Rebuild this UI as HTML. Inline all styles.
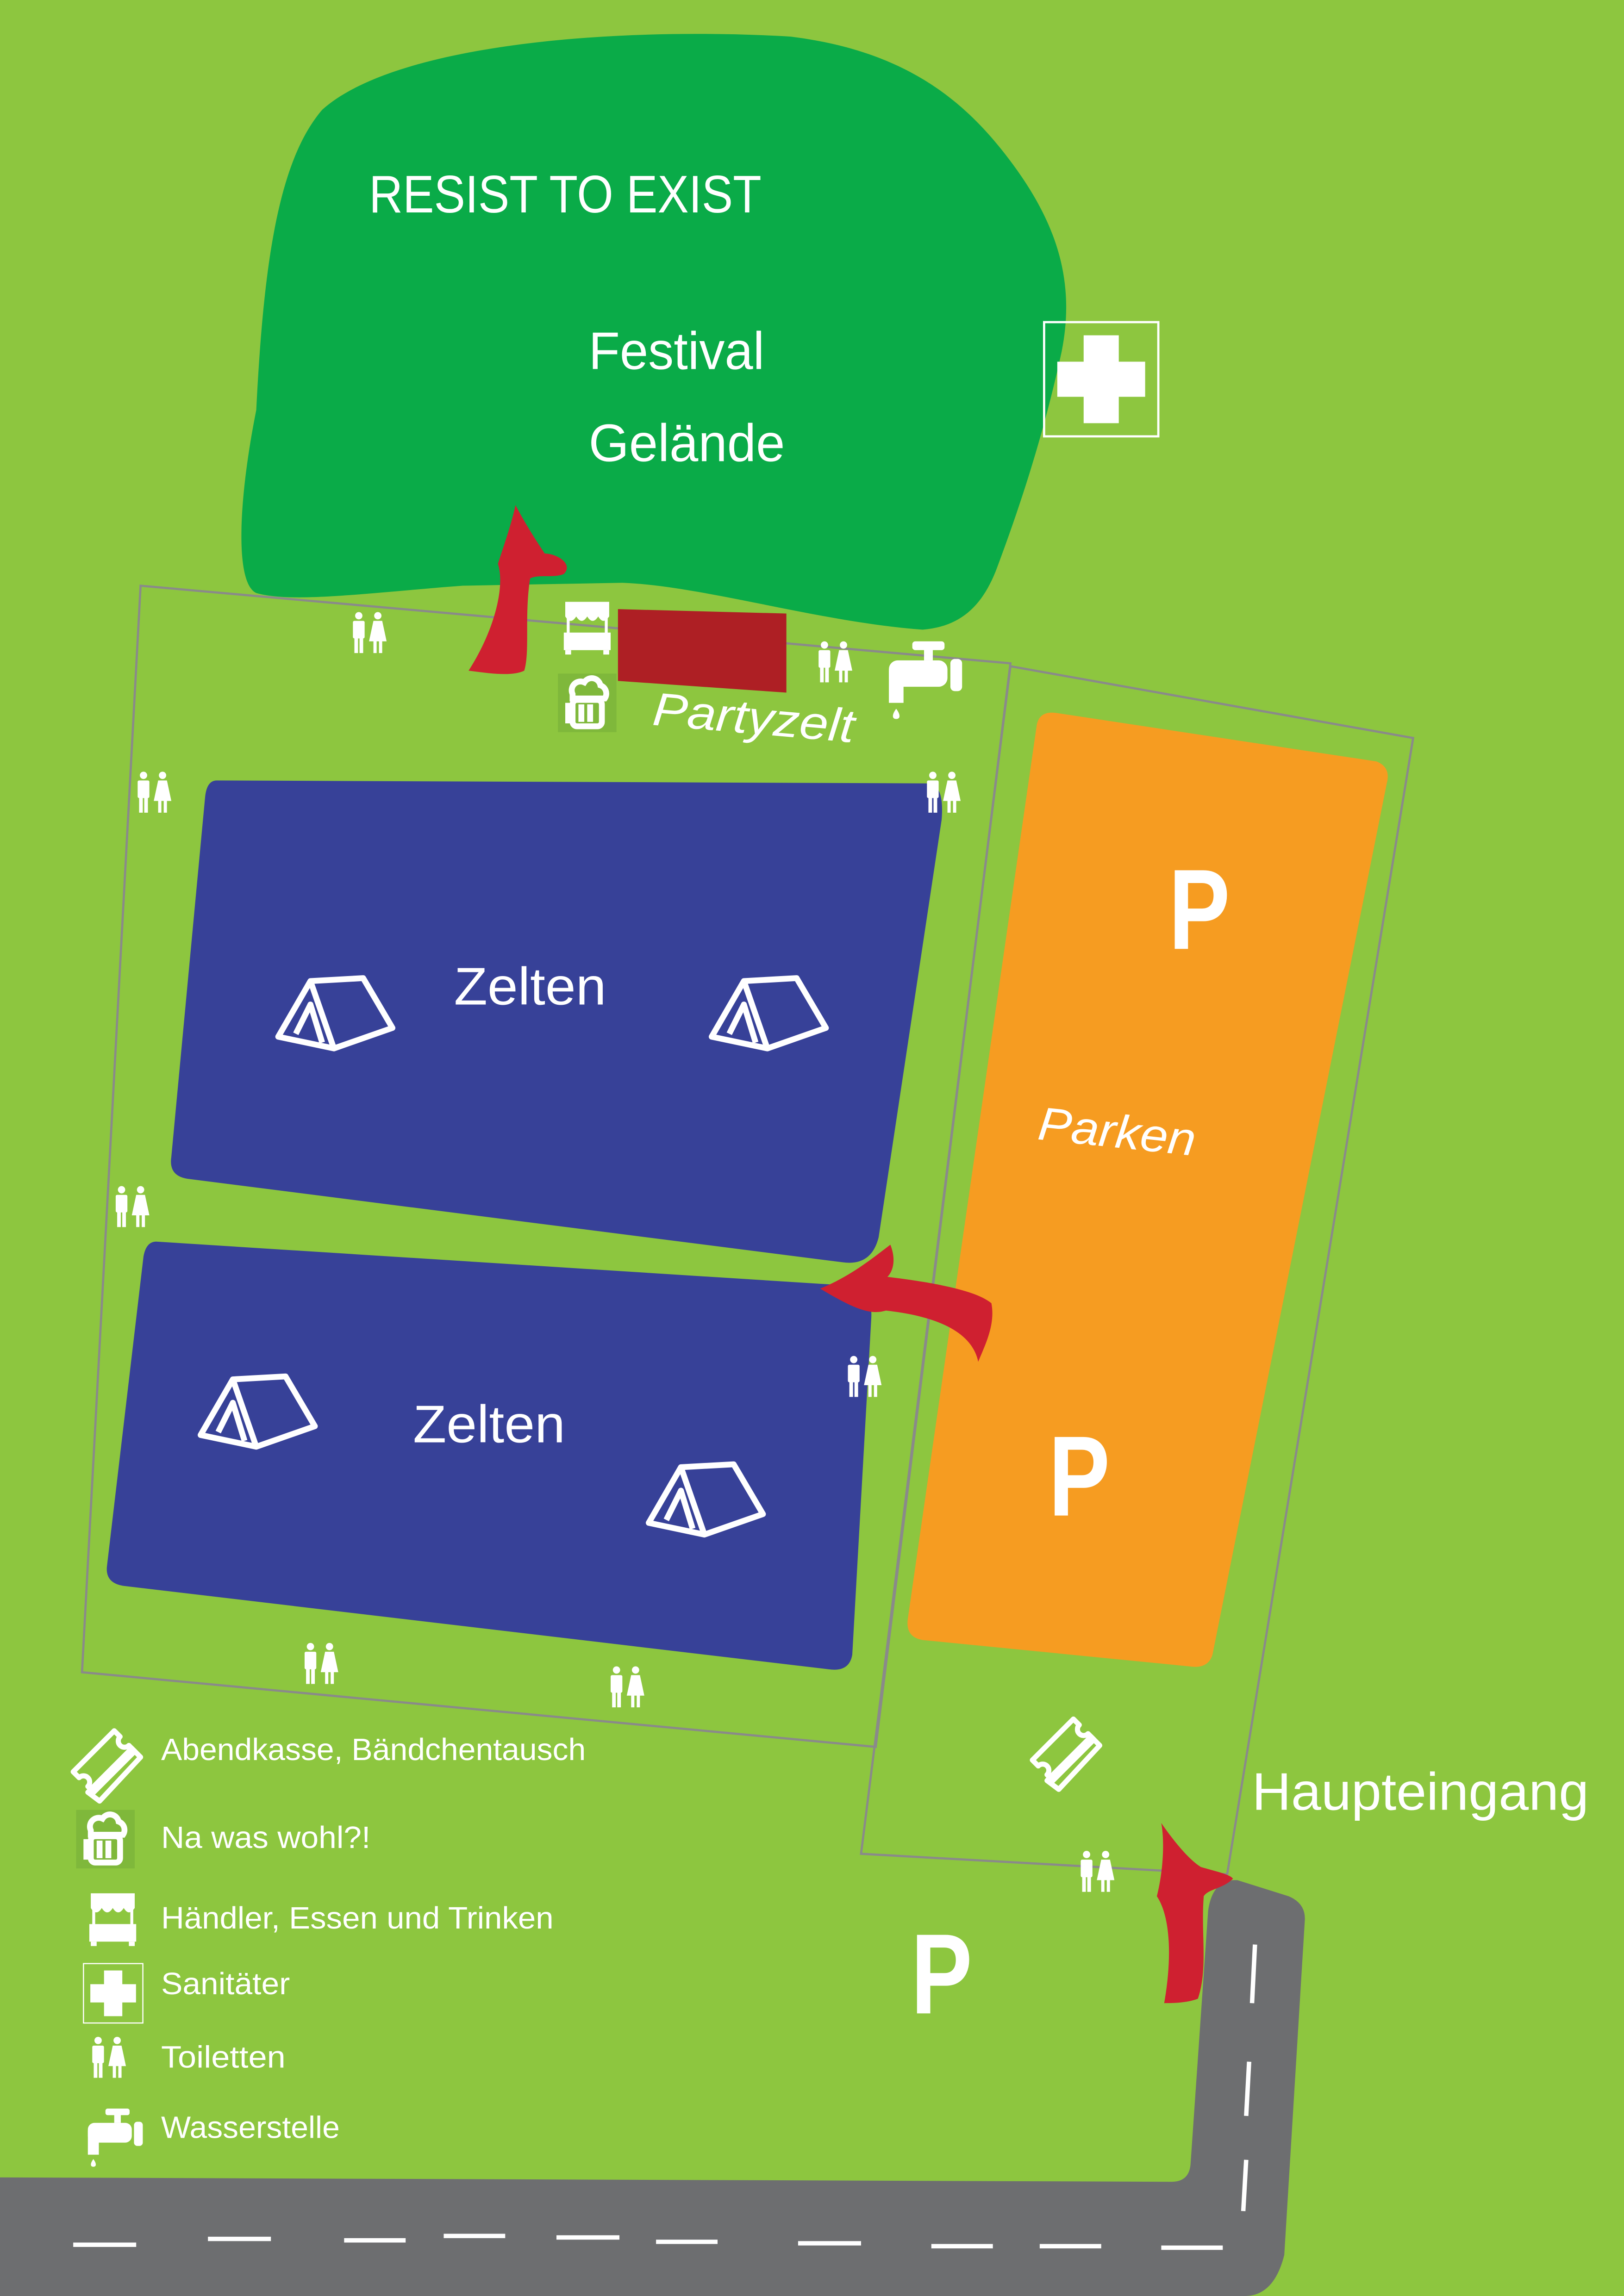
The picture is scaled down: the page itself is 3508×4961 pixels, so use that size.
<!DOCTYPE html>
<html><head><meta charset="utf-8"><style>
html,body{margin:0;padding:0;background:#8dc63f;}
svg{display:block}
text{font-family:"Liberation Sans",sans-serif;fill:#fff}
</style></head><body>
<svg width="3508" height="4961" viewBox="0 0 1109 1568" preserveAspectRatio="none" xmlns="http://www.w3.org/2000/svg">
<defs>
<g id="wc" fill="#fff">
  <circle cx="5" cy="2.5" r="2.5"/><rect x="1" y="6" width="8" height="12" rx="1"/><rect x="2" y="16" width="2.5" height="12"/><rect x="5.5" y="16" width="2.5" height="12"/>
  <circle cx="18" cy="2.5" r="2.5"/><path d="M15 6h6l3 14h-12z"/><rect x="15" y="18" width="2.2" height="10"/><rect x="18.8" y="18" width="2.2" height="10"/>
</g>
<g id="tent" fill="none" stroke="#fff" stroke-width="4" stroke-linejoin="round">
  <path d="M0 40 L22 2 L58 0 L78 34 L38 48 Z"/><path d="M12 38 L22 18 L30 44"/><path d="M22 2 L38 48"/>
</g>
<g id="stand" fill="#fff">
  <path d="M2 0h30v10c-3 4-5 4-7.5 0c-2.5 4-5 4-7.5 0c-2.5 4-5 4-7.5 0c-2.5 4-5 4-7.5 0z"/><rect x="3" y="10" width="2" height="12"/><rect x="29" y="10" width="2" height="12"/><rect x="1" y="21" width="32" height="12"/><rect x="2" y="33" width="4" height="3"/><rect x="28" y="33" width="4" height="3"/>
</g>
<g id="tap" fill="#fff">
  <rect x="16" y="0" width="22" height="6" rx="2"/><rect x="24" y="5" width="6" height="8"/><rect x="0" y="13" width="40" height="18" rx="6"/><rect x="42" y="12" width="8" height="22" rx="3"/><rect x="0" y="20" width="10" height="22"/><path d="M5 46 c-3 4-3 7 0 7 c3 0 3-3 0-7z"/>
</g>
<g id="beer">
  <rect x="-4" y="-4" width="40" height="40" fill="#7fb83b"/>
  <g fill="none" stroke="#fff" stroke-width="4"><path d="M6 10 a6 6 0 0 1 8-8 a6 6 0 0 1 11 2 a6 6 0 0 1 3 9 h-22z"/><rect x="6" y="14" width="20" height="18" rx="3"/><path d="M6 18 h-3 v10 h3"/><path d="M12 17v12M18 17v12"/></g>
</g>
<g id="ticket" fill="none" stroke="#fff" stroke-width="3.5" stroke-linejoin="round">
  <path d="M0 30 L28 2 l4 4 a4 4 0 0 0 6 6 l4 4 L14 44 l-4-4 a4 4 0 0 0 -6 -6z"/><path d="M10 44 l30-30 l6 6 L18 50z"/>
</g>
<g id="cross"><rect x="0" y="0" width="78" height="78" fill="none" stroke="#fff" stroke-width="1.5"/><path fill="#fff" d="M27 9h24v18h18v24h-18v18h-24v-18h-18v-24h18z"/></g>
</defs>

<rect width="1109" height="1568" fill="#8dc63f"/>

<!-- festival blob -->
<path d="M175 280 C180 180 190 110 220 75 C270 30 420 18 540 25 C620 35 660 70 690 110 C720 150 735 190 725 240 C712 300 695 350 680 390 C670 415 655 428 630 430 C560 425 480 400 425 398 L316 400 C250 405 200 412 175 405 C160 398 163 340 175 280Z" fill="#0aab48"/>

<!-- boundary lines -->
<polygon points="96,400 690,453 598,1193 56,1142" fill="none" stroke="#8a8a8a" stroke-width="1.5"/>
<polygon points="690,455 965,504 838,1280 588,1266" fill="none" stroke="#8a8a8a" stroke-width="1.5"/>

<!-- blue areas -->
<path d="M148 533 L635 535 Q645 537 643 560 L600 845 Q595 865 575 862 L128 805 Q115 803 117 790 L140 545 Q141 533 148 533Z" fill="#374198"/>
<path d="M108 848 L580 878 Q596 880 595 900 L582 1130 Q580 1142 566 1140 L84 1083 Q72 1081 73 1070 L98 858 Q100 847 108 848Z" fill="#374198"/>

<!-- orange -->
<path d="M722 487 L940 520 Q950 524 947 535 L828 1130 Q825 1140 812 1138 L630 1120 Q618 1118 620 1105 L708 495 Q710 485 722 487Z" fill="#f69c21"/>

<!-- road -->
<path d="M0 1487 L800 1490 Q812 1490 813 1478 L825 1305 Q828 1283 845 1284 L880 1295 Q892 1300 891 1312 L877 1540 Q870 1568 850 1568 L0 1568Z" fill="#6d6e70"/>
<g stroke="#fff" stroke-width="3">
<line x1="50" y1="1533" x2="93" y2="1533"/><line x1="142" y1="1529" x2="185" y2="1529"/><line x1="235" y1="1530" x2="277" y2="1530"/><line x1="303" y1="1527" x2="345" y2="1527"/><line x1="380" y1="1528" x2="423" y2="1528"/><line x1="448" y1="1531" x2="490" y2="1531"/><line x1="545" y1="1532" x2="588" y2="1532"/><line x1="636" y1="1534" x2="678" y2="1534"/><line x1="710" y1="1534" x2="752" y2="1534"/><line x1="793" y1="1535" x2="835" y2="1535"/>
<line x1="857" y1="1328" x2="855" y2="1368"/><line x1="853" y1="1408" x2="851" y2="1445"/><line x1="851" y1="1475" x2="849" y2="1510"/>
</g>

<!-- red rect -->
<polygon points="422,416 537,419 537,473 422,465" fill="#ae1f24"/>

<!-- arrows -->
<path d="M320 458 C338 430 345 400 340 385 C345 370 350 355 352 345 C360 360 368 372 372 378 C380 378 392 385 385 392 C378 395 368 392 362 395 C358 420 362 445 358 458 C350 462 335 460 320 458Z" fill="#cf2030"/>
<path d="M560 880 C580 872 595 860 608 850 C612 860 610 868 606 872 C630 875 665 880 677 890 C680 905 672 920 668 930 C665 915 650 900 605 895 C595 898 585 895 560 880Z" fill="#cf2030"/>
<path d="M795 1368 C800 1340 800 1310 790 1295 C795 1275 795 1255 793 1245 C802 1258 812 1270 820 1275 C830 1278 840 1280 842 1283 C835 1290 825 1290 822 1295 C820 1320 825 1345 818 1365 C810 1368 800 1368 795 1368Z" fill="#cf2030"/>

<!-- icons -->
<use href="#wc" x="240" y="418"/>
<use href="#wc" x="558" y="438"/>
<use href="#wc" x="93" y="527"/>
<use href="#wc" x="632" y="527"/>
<use href="#wc" x="78" y="810"/>
<use href="#wc" x="578" y="926"/>
<use href="#wc" x="207" y="1122"/>
<use href="#wc" x="416" y="1138"/>
<use href="#wc" x="737" y="1264"/>
<use href="#stand" x="384" y="411"/>
<use href="#tap" x="607" y="438"/>
<use href="#beer" x="385" y="464"/>
<use href="#cross" x="713" y="220"/>
<use href="#ticket" x="705" y="1172"/>
<use href="#tent" x="190" y="668"/>
<use href="#tent" x="486" y="668"/>
<use href="#tent" x="137" y="940"/>
<use href="#tent" x="443" y="1000"/>

<!-- text -->
<text x="252" y="145" font-size="36" textLength="268" lengthAdjust="spacingAndGlyphs">RESIST TO EXIST</text>
<text x="402" y="252" font-size="36" textLength="120" lengthAdjust="spacingAndGlyphs">Festival</text>
<text x="402" y="315" font-size="36" textLength="134" lengthAdjust="spacingAndGlyphs">Gelände</text>
<text x="445" y="495" font-size="32" font-style="italic" transform="rotate(5 445 495)" textLength="138" lengthAdjust="spacingAndGlyphs">Partyzelt</text>
<text x="310" y="686" font-size="36" textLength="104" lengthAdjust="spacingAndGlyphs">Zelten</text>
<text x="282" y="985" font-size="36" textLength="104" lengthAdjust="spacingAndGlyphs">Zelten</text>
<text x="708" y="778" font-size="32" font-style="italic" transform="rotate(6 708 778)" textLength="108" lengthAdjust="spacingAndGlyphs">Parken</text>
<text x="798" y="648" font-size="78" font-weight="bold" textLength="42" lengthAdjust="spacingAndGlyphs">P</text>
<text x="716" y="1035" font-size="78" font-weight="bold" textLength="42" lengthAdjust="spacingAndGlyphs">P</text>
<text x="622" y="1375" font-size="78" font-weight="bold" textLength="42" lengthAdjust="spacingAndGlyphs">P</text>
<text x="855" y="1236" font-size="36" textLength="230" lengthAdjust="spacingAndGlyphs">Haupteingang</text>

<!-- legend -->
<use href="#ticket" x="50" y="1180"/>
<text x="110" y="1202" font-size="21" textLength="290" lengthAdjust="spacingAndGlyphs">Abendkasse, Bändchentausch</text>
<use href="#beer" x="56" y="1240"/>
<text x="110" y="1262" font-size="21" textLength="143" lengthAdjust="spacingAndGlyphs">Na was wohl?!</text>
<use href="#stand" x="60" y="1293"/>
<text x="110" y="1317" font-size="21" textLength="268" lengthAdjust="spacingAndGlyphs">Händler, Essen und Trinken</text>
<g transform="translate(57,1341) scale(0.52)"><use href="#cross"/></g>
<text x="110" y="1362" font-size="21" textLength="88" lengthAdjust="spacingAndGlyphs">Sanitäter</text>
<use href="#wc" x="62" y="1391"/>
<text x="110" y="1412" font-size="21" textLength="85" lengthAdjust="spacingAndGlyphs">Toiletten</text>
<g transform="translate(60,1440) scale(0.75)"><use href="#tap"/></g>
<text x="110" y="1460" font-size="21" textLength="122" lengthAdjust="spacingAndGlyphs">Wasserstelle</text>
</svg>
</body></html>
